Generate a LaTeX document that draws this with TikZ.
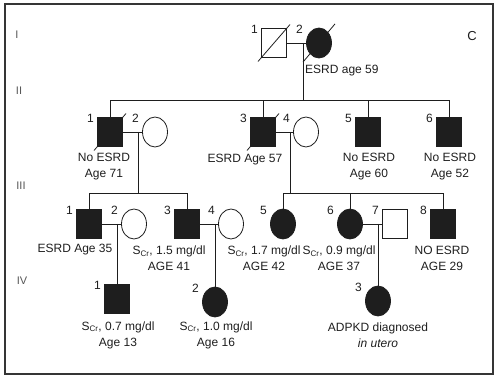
\documentclass[tikz,border=0pt]{standalone}
\usepackage{fontspec}
\setmainfont{Liberation Sans}
\usetikzlibrary{shapes.geometric, calc}
\definecolor{inkgray}{RGB}{30,30,30}

\begin{document}
\begin{tikzpicture}[x=1pt, y=-1pt,
    male/.style={rectangle, draw=inkgray, line width=0.8pt, minimum width=25pt, minimum height=29pt, inner sep=0pt},
    female/.style={ellipse, draw=inkgray, line width=0.8pt, minimum width=25pt, minimum height=30pt, inner sep=0pt},
    aff/.style={fill=inkgray},
    num/.style={font=\fontsize{12}{13}\selectfont, text=inkgray, inner sep=0pt, anchor=north east, xshift=-3pt, yshift=3pt},
    note/.style={font=\fontsize{12}{16}\selectfont, text=inkgray, align=center, inner sep=0pt},
    gen/.style={font=\fontsize{11}{13}\selectfont, text=inkgray!75},
    link/.style={draw=inkgray, line width=0.8pt}
]
\useasboundingbox (0,0) rectangle (496,377);
\draw[line width=2pt, draw=inkgray!90] (5,4) rectangle (493,374);

\node[gen] (g1) at (17,35) {I};
\node[gen] (g2) at (19,91) {II};
\node[gen] (g3) at (21,186) {III};
\node[gen] (g4) at (22,281) {IV};
\node[note, font=\fontsize{13}{15}\selectfont] (panel) at (472,36) {C};

\node[male] (i1) at (274,43) {};
\node[female, aff] (i2) at (319,43) {};
\node[male, aff] (ii1) at (110,132) {};
\node[female] (ii2) at (155,132) {};
\node[male, aff] (ii3) at (263,132) {};
\node[female] (ii4) at (306,132) {};
\node[male, aff] (ii5) at (368,132) {};
\node[male, aff] (ii6) at (449,132) {};
\node[male, aff] (iii1) at (89,224) {};
\node[female] (iii2) at (134,224) {};
\node[male, aff] (iii3) at (187,224) {};
\node[female] (iii4) at (231,224) {};
\node[female, aff] (iii5) at (283,224) {};
\node[female, aff] (iii6) at (350,224) {};
\node[male] (iii7) at (395,224) {};
\node[male, aff] (iii8) at (443,224) {};
\node[male, aff] (iv1) at (117,299) {};
\node[female, aff] (iv2) at (215,302) {};
\node[female, aff] (iv3) at (378,301) {};

\foreach \p/\n in {i1/1, i2/2, ii1/1, ii2/2, ii3/3, ii4/4, ii5/5, ii6/6,
    iii1/1, iii2/2, iii3/3, iii4/4, iii5/5, iii6/6, iii7/7, iii8/8, iv1/1, iv2/2, iv3/3}
  \node[num] at (\p.west |- \p.north) {\n};

\foreach \p in {i1, i2, ii1, ii3}
  \draw[link] ($(\p.west |- \p.south)!-0.12!(\p.east |- \p.north)$) -- ($(\p.east |- \p.north)!-0.12!(\p.west |- \p.south)$);

\coordinate (d1) at (303,43);
\coordinate (s2) at (303,100);
\coordinate (d2a) at (138,132);
\coordinate (s3a) at (138,193);
\coordinate (d2b) at (290,132);
\coordinate (s3b) at (290,193);
\coordinate (d3a) at (117,224);
\coordinate (d3b) at (215,224);
\coordinate (d3c) at (378,224);

\draw[link] (i1.east) -- (i2.west);
\draw[link] (d1) -- (s2);
\draw[link] (ii1.north) -- (ii1.north |- s2) -- (ii6.north |- s2) -- (ii6.north);
\draw[link] (ii3.north) -- (ii3.north |- s2);
\draw[link] (ii5.north) -- (ii5.north |- s2);

\draw[link] (ii1.east) -- (ii2.west);
\draw[link] (ii3.east) -- (ii4.west);
\draw[link] (d2a) -- (s3a);
\draw[link] (d2b) -- (s3b);
\draw[link] (iii1.north) -- (iii1.north |- s3a) -- (iii3.north |- s3a) -- (iii3.north);
\draw[link] (iii5.north) -- (iii5.north |- s3b) -- (iii8.north |- s3b) -- (iii8.north);
\draw[link] (iii6.north) -- (iii6.north |- s3b);

\draw[link] (iii1.east) -- (iii2.west);
\draw[link] (iii3.east) -- (iii4.west);
\draw[link] (iii6.east) -- (iii7.west);
\draw[link] (d3a) -- (iv1.north);
\draw[link] (d3b) -- (iv2.north);
\draw[link] (d3c) -- (iv3.north);

\node[note, anchor=west] (t12) at (305,71) {ESRD age 59};
\node[note] (t21) at (104,167) {No ESRD\\Age 71};
\node[note] (t23) at (245,160) {ESRD Age 57};
\node[note] (t25) at (369,167) {No ESRD\\Age 60};
\node[note] (t26) at (450,167) {No ESRD\\Age 52};
\node[note] (t31) at (75,250) {ESRD Age 35};
\node[note] (t33) at (169,258) {S\textsubscript{Cr}, 1.5 mg/dl\\AGE 41};
\node[note] (t34) at (264,258) {S\textsubscript{Cr}, 1.7 mg/dl\\AGE 42};
\node[note] (t36) at (339,258) {S\textsubscript{Cr}, 0.9 mg/dl\\AGE 37};
\node[note] (t38) at (442,258) {NO ESRD\\AGE 29};
\node[note] (t41) at (118,335) {S\textsubscript{Cr}, 0.7 mg/dl\\Age 13};
\node[note] (t42) at (216,335) {S\textsubscript{Cr}, 1.0 mg/dl\\Age 16};
\node[note] (t43) at (378,335) {ADPKD diagnosed\\\textit{in utero}};
\end{tikzpicture}
\end{document}
